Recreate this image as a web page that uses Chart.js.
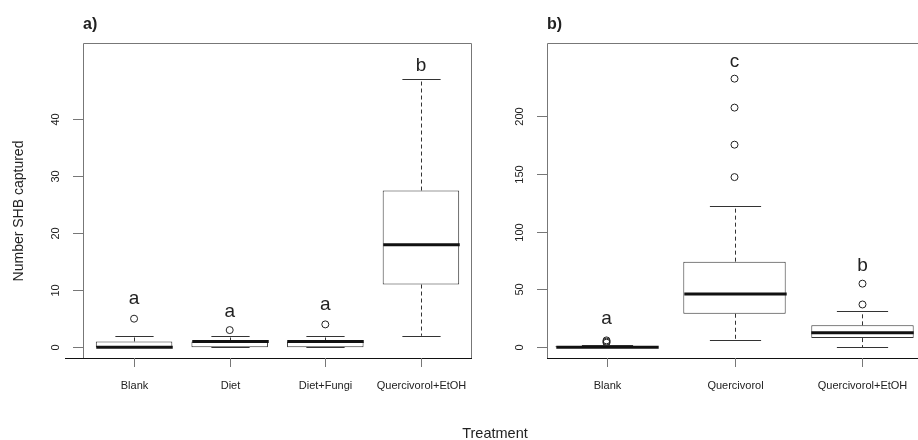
<!DOCTYPE html>
<html>
<head>
<meta charset="utf-8">
<script src="https://cdn.jsdelivr.net/npm/chart.js@4/dist/chart.umd.min.js"></script>
<style>
  html, body { margin: 0; padding: 0; background: #fff; overflow: hidden; }
  #wrap { position: relative; width: 918px; height: 440px; overflow: hidden; }
  canvas { position: absolute; top: 0; }
  #xTitle { position: absolute; top: 426px; left: 0; width: 990px; text-align: center;
    font: 14.5px/14.5px "Liberation Sans", Arial, sans-serif; color: #222; }
</style>
</head>
<body>
<div id="wrap">
  <canvas id="chartA" width="480" height="440" style="left:0"></canvas>
  <canvas id="chartB" width="450" height="440" style="left:480px"></canvas>
  <div id="xTitle">Treatment</div>
</div>
<script>
'use strict';

// panel a) - four treatments
const catsA = ['Blank', 'Diet', 'Diet+Fungi', 'Quercivorol+EtOH'];
const lowA = [0, 0, 0, 2];
const q1A = [0, 0, 0, 11];
const medA = [0, 1, 1, 18];
const q3A = [1, 1, 1, 27.5];
const highA = [2, 2, 2, 47];
const outA = [[5], [3], [4], []];
const lettersA = ['a', 'a', 'a', 'b'];
const letterYA = [7.6, 5.3, 6.5, 48.4];
const yTicksA = [0, 10, 20, 30, 40];

// panel b) - three treatments
const catsB = ['Blank', 'Quercivorol', 'Quercivorol+EtOH'];
const lowB = [0, 6, 0];
const q1B = [0, 29, 8];
const medB = [0, 46, 12.5];
const q3B = [1, 74, 19];
const highB = [2, 122, 31];
const outB = [[4, 5, 6], [147, 175, 207, 232], [37, 55]];
const lettersB = ['a', 'c', 'b'];
const letterYB = [19.8, 242.2, 66.1];
const yTicksB = [0, 50, 100, 150, 200];

const FONT = '"Liberation Sans", Arial, sans-serif';
const TXT = '#222';
const GREY = '#777';

function boxPlugin(p){
  return {
    id: 'boxPlot',
    beforeDatasetsDraw(chart){
      const ctx = chart.ctx;
      const a = chart.chartArea;
      const ys = chart.scales.y;
      const xs = chart.scales.x;
      ctx.save();
      ctx.lineWidth = 1;
      // frame
      ctx.strokeStyle = GREY;
      ctx.beginPath();
      ctx.moveTo(a.left + 0.5, a.bottom);
      ctx.lineTo(a.left + 0.5, a.top + 0.5);
      ctx.lineTo(a.right - 0.5, a.top + 0.5);
      ctx.lineTo(a.right - 0.5, a.bottom);
      ctx.stroke();
      // bottom axis
      ctx.strokeStyle = '#111';
      ctx.beginPath();
      ctx.moveTo(a.left - p.axisExtra, a.bottom + 0.5);
      ctx.lineTo(a.right, a.bottom + 0.5);
      ctx.stroke();
      // y ticks
      ctx.strokeStyle = GREY;
      ctx.fillStyle = TXT;
      ctx.font = '11px ' + FONT;
      ctx.textAlign = 'center';
      ctx.textBaseline = 'middle';
      p.yTicks.forEach(v => {
        const y = Math.round(ys.getPixelForValue(v)) + 0.5;
        ctx.beginPath();
        ctx.moveTo(a.left - 10, y);
        ctx.lineTo(a.left, y);
        ctx.stroke();
        ctx.save();
        ctx.translate(a.left - 27, y);
        ctx.rotate(-Math.PI / 2);
        ctx.fillText(String(v), 0, 0);
        ctx.restore();
      });
      // x ticks + labels
      p.cats.forEach((c, i) => {
        const x = Math.round(xs.getPixelForValue(i + 1)) + 0.5;
        ctx.beginPath();
        ctx.moveTo(x, a.bottom);
        ctx.lineTo(x, a.bottom + 9);
        ctx.stroke();
        ctx.fillText(c, x, a.bottom + 28);
      });
      // panel title
      ctx.font = 'bold 16px ' + FONT;
      ctx.textAlign = 'left';
      ctx.textBaseline = 'alphabetic';
      ctx.fillText(p.title, a.left, 29);
      if (p.yTitle) {
        ctx.font = '14px ' + FONT;
        ctx.textAlign = 'center';
        ctx.textBaseline = 'middle';
        ctx.save();
        ctx.translate(19, 211);
        ctx.rotate(-Math.PI / 2);
        ctx.fillText(p.yTitle, 0, 0);
        ctx.restore();
      }
      ctx.restore();
    },
    afterDatasetDraw(chart, args){
      if (args.index !== 0) return;
      const ctx = chart.ctx;
      const ys = chart.scales.y;
      const meta = chart.getDatasetMeta(0);
      ctx.save();
      ctx.strokeStyle = '#333';
      p.cats.forEach((c, i) => {
        const bar = meta.data[i];
        const x = Math.round(bar.x) + 0.5;
        const w = bar.width;
        const yLow = ys.getPixelForValue(p.low[i]);
        const yQ1 = ys.getPixelForValue(p.q1[i]);
        const yQ3 = ys.getPixelForValue(p.q3[i]);
        const yHigh = ys.getPixelForValue(p.high[i]);
        const yMed = ys.getPixelForValue(p.med[i]);
        ctx.lineWidth = 1;
        ctx.setLineDash([4, 3]);
        ctx.beginPath();
        if (p.high[i] > p.q3[i]) { ctx.moveTo(x, yQ3); ctx.lineTo(x, yHigh); }
        if (p.low[i] < p.q1[i]) { ctx.moveTo(x, yQ1); ctx.lineTo(x, yLow); }
        ctx.stroke();
        ctx.setLineDash([]);
        ctx.beginPath();
        ctx.moveTo(x - w / 4, Math.round(yHigh) + 0.5);
        ctx.lineTo(x + w / 4, Math.round(yHigh) + 0.5);
        ctx.moveTo(x - w / 4, Math.round(yLow) + 0.5);
        ctx.lineTo(x + w / 4, Math.round(yLow) + 0.5);
        ctx.stroke();
        ctx.strokeStyle = '#111';
        ctx.lineWidth = 3;
        ctx.beginPath();
        ctx.moveTo(x - w / 2, yMed);
        ctx.lineTo(x + w / 2, yMed);
        ctx.stroke();
        ctx.strokeStyle = '#333';
      });
      ctx.restore();
    },
    afterDraw(chart){
      const ctx = chart.ctx;
      const ys = chart.scales.y;
      const xs = chart.scales.x;
      ctx.save();
      ctx.fillStyle = TXT;
      ctx.font = '19px ' + FONT;
      ctx.textAlign = 'center';
      ctx.textBaseline = 'alphabetic';
      p.letters.forEach((l, i) => {
        ctx.fillText(l, xs.getPixelForValue(i + 1), ys.getPixelForValue(p.letterY[i]));
      });
      ctx.restore();
    }
  };
}

function makePanel(id, p){
  const boxes = p.cats.map((c, i) => ({x: i + 1, y: [p.q1[i], p.q3[i]]}));
  const pts = [];
  p.out.forEach((arr, i) => arr.forEach(v => pts.push({x: i + 1, y: v})));
  const ctx = document.getElementById(id).getContext('2d');
  return new Chart(ctx, {
    type: 'bar',
    data: {
      datasets: [{
        type: 'bar',
        data: boxes,
        backgroundColor: '#fff',
        borderColor: '#333',
        borderWidth: 1,
        borderSkipped: false,
        barPercentage: 0.8,
        categoryPercentage: 1
      }, {
        type: 'line',
        data: pts,
        showLine: false,
        pointRadius: 3.5,
        pointBorderWidth: 1,
        pointBorderColor: '#222',
        pointBackgroundColor: 'rgba(255,255,255,0)'
      }]
    },
    options: {
      responsive: false,
      animation: false,
      events: [],
      layout: { padding: p.pad },
      plugins: { legend: { display: false }, tooltip: { enabled: false } },
      scales: {
        x: {
          type: 'linear', display: false, offset: false, min: p.xMin, max: p.xMax,
          afterBuildTicks: s => { s.ticks = p.cats.map((c, i) => ({ value: i + 1 })); }
        },
        y: { type: 'linear', display: false, min: p.yMin, max: p.yMax }
      }
    },
    plugins: [boxPlugin(p)]
  });
}

makePanel('chartA', {
  cats: catsA, low: lowA, q1: q1A, med: medA, q3: q3A, high: highA, out: outA,
  letters: lettersA, letterY: letterYA, yTicks: yTicksA,
  title: 'a)', yTitle: 'Number SHB captured',
  xMin: 0.466, xMax: 4.534, yMin: -1.9, yMax: 53.4,
  pad: { left: 83, right: 8, top: 43, bottom: 82 }, axisExtra: 18
});

makePanel('chartB', {
  cats: catsB, low: lowB, q1: q1B, med: medB, q3: q3B, high: highB, out: outB,
  letters: lettersB, letterY: letterYB, yTicks: yTicksB,
  title: 'b)', yTitle: null,
  xMin: 0.535, xMax: 3.465, yMin: -9.2, yMax: 262.8,
  pad: { left: 67, right: 8, top: 43, bottom: 82 }, axisExtra: 0
});
</script>
</body>
</html>
